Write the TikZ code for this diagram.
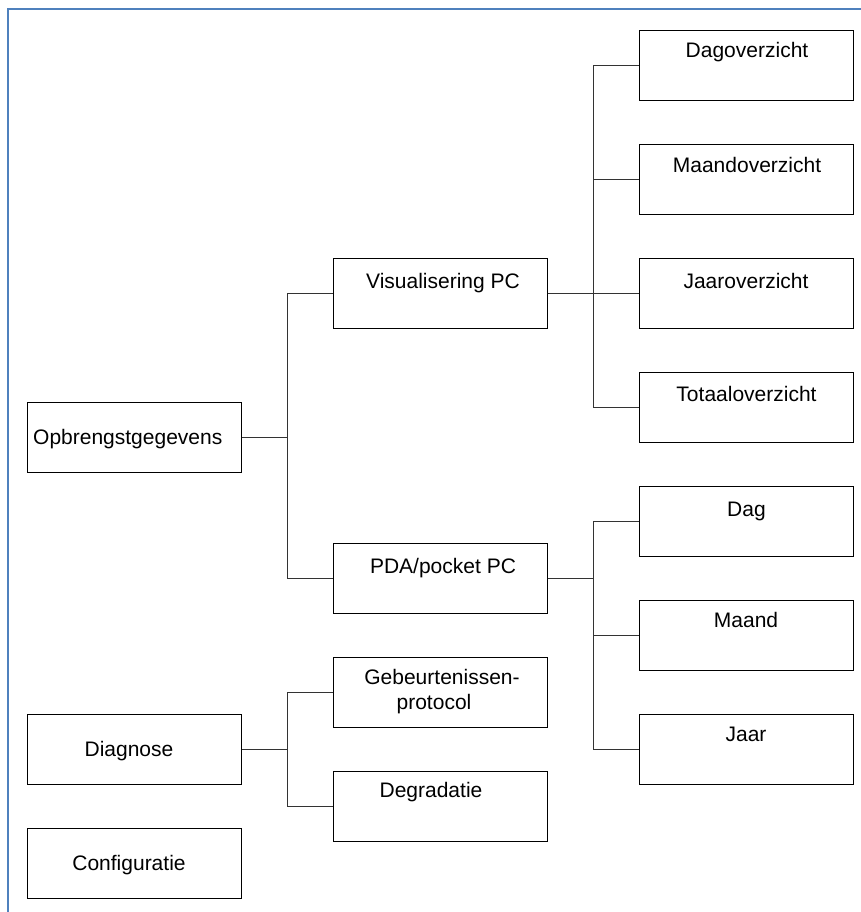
\documentclass[tikz,border=0pt]{standalone}
\usepackage{fontspec}
\setmainfont{Liberation Sans}
\definecolor{frameblue}{HTML}{4F81BD}
\definecolor{linegray}{HTML}{333333}
\begin{document}
\begin{tikzpicture}[x=1pt,y=-1pt,
  box/.style={draw=black,line width=1pt,minimum width=214pt,minimum height=70pt,inner sep=0pt},
  lbl/.style={anchor=base,inner sep=0pt,font=\fontsize{21}{24}\selectfont},
  conn/.style={draw=linegray,line width=1pt}]
\useasboundingbox (0,0) rectangle (861,912);
\fill[white] (0,0) rectangle (861,912);
% frame
\coordinate (fa) at (861,9);
\coordinate (fb) at (8,9);
\coordinate (fc) at (8,912);
\draw[frameblue,line width=1.5pt] (fa) -- (fb) -- (fc);
% boxes
\node[box] (opb) at (134,437) {};
\node[box] (vis) at (440,293) {};
\node[box] (pda) at (440,578) {};
\node[box] (geb) at (440,692) {};
\node[box] (deg) at (440,806) {};
\node[box] (diag) at (134,749.5) {};
\node[box] (conf) at (134,863) {};
\node[box] (dagov) at (746,65.5) {};
\node[box] (maandov) at (746,179.5) {};
\node[box] (jaarov) at (746,293) {};
\node[box] (totov) at (746,407) {};
\node[box] (dag) at (746,521) {};
\node[box] (maand) at (746,635) {};
\node[box] (jaar) at (746,749) {};
% labels
\node[lbl,anchor=base west] (topb) at (33,444.5) {Opbrengstgegevens};
\node[lbl] (tvis) at (443,288) {Visualisering PC};
\node[lbl] (tpda) at (443,573) {PDA/pocket PC};
\node[lbl] (tgeb1) at (442,684) {Gebeurtenissen-};
\node[lbl] (tgeb2) at (434,709) {protocol};
\node[lbl] (tdeg) at (431,797) {Degradatie};
\node[lbl] (tdiag) at (129,756.5) {Diagnose};
\node[lbl] (tconf) at (129,870) {Configuratie};
\node[lbl] (tdagov) at (747,58) {Dagoverzicht};
\node[lbl] (tmaandov) at (747,172) {Maandoverzicht};
\node[lbl] (tjaarov) at (746,288) {Jaaroverzicht};
\node[lbl] (ttotov) at (746.5,401) {Totaaloverzicht};
\node[lbl] (tdag) at (746.5,516) {Dag};
\node[lbl] (tmaand) at (746,627) {Maand};
\node[lbl] (tjaar) at (746,741) {Jaar};
% connectors
\draw[conn] (opb.east) -- ++(46,0) |- (vis.west);
\draw[conn] (opb.east) -- ++(46,0) |- (pda.west);
\draw[conn] (vis.east) -- ++(46,0) |- (dagov.west);
\draw[conn] (vis.east) -- ++(46,0) |- (maandov.west);
\draw[conn] (vis.east) -- (jaarov.west);
\draw[conn] (vis.east) -- ++(46,0) |- (totov.west);
\draw[conn] (pda.east) -- ++(46,0) |- (dag.west);
\draw[conn] (pda.east) -- ++(46,0) |- (maand.west);
\draw[conn] (pda.east) -- ++(46,0) |- (jaar.west);
\draw[conn] (diag.east) -- ++(46,0) |- (geb.west);
\draw[conn] (diag.east) -- ++(46,0) |- (deg.west);
\end{tikzpicture}
\end{document}
